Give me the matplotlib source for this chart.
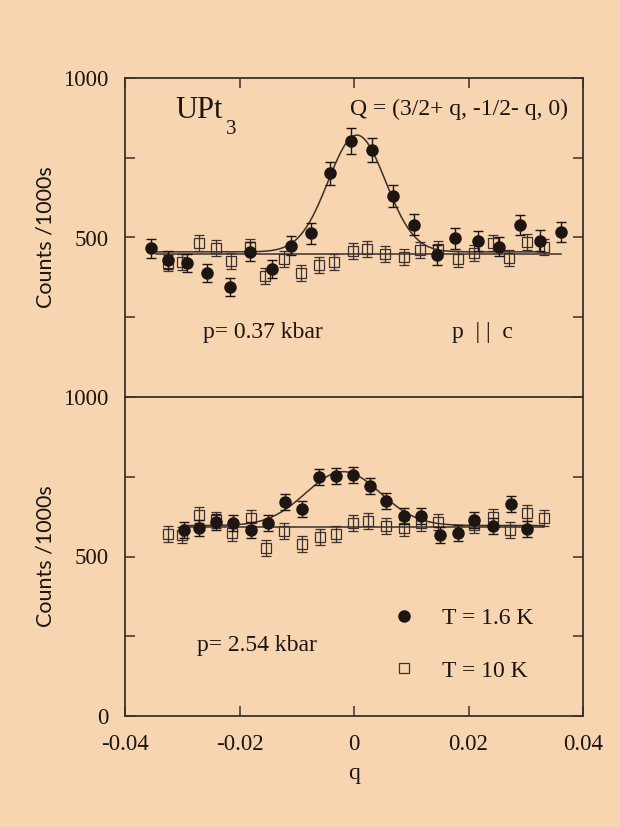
import numpy as np
import matplotlib
matplotlib.use("Agg")
import matplotlib.pyplot as plt
from matplotlib.ticker import FixedLocator

plt.rcParams['axes.unicode_minus'] = False
plt.rcParams['font.family'] = ['Liberation Serif', 'DejaVu Serif']

# ---------------- data: top panel (p = 0.37 kbar) ----------------
top_q_cold = [-0.0355, -0.0325, -0.0291, -0.0256, -0.0217, -0.0182, -0.0144, -0.0110,
              -0.0075, -0.0042, -0.0005, 0.0032, 0.0068, 0.0104, 0.0145, 0.0177,
              0.0216, 0.0253, 0.0290, 0.0325, 0.0361]
top_c_cold = [466, 429, 419, 390, 344, 455, 402, 474, 513, 701, 803, 774, 630, 540,
              445, 497, 489, 471, 540, 490, 518]
top_e_cold = [30, 28, 28, 28, 28, 30, 28, 30, 32, 36, 40, 38, 35, 33, 30, 32, 32, 30, 32, 32, 32]

top_q_warm = [-0.0325, -0.0301, -0.0271, -0.0241, -0.0214, -0.0181, -0.0155, -0.0122,
              -0.0093, -0.0062, -0.0035, -0.0002, 0.0023, 0.0055, 0.0087, 0.0116,
              0.0146, 0.0182, 0.0209, 0.0243, 0.0271, 0.0302, 0.0332]
top_c_warm = [419, 424, 484, 468, 427, 471, 379, 433, 390, 414, 424, 459, 464, 448,
              438, 461, 464, 432, 450, 482, 435, 487, 471]
top_e_warm = [25] * len(top_q_warm)

# gaussian fit (peak) and flat line, top panel
top_fit_base, top_fit_amp, top_fit_q0, top_fit_sigma = 455, 366, 0.0005, 0.0050
top_fit_range = (-0.0355, 0.0325)
top_flat_level, top_flat_range = 448, (-0.0345, 0.0361)

# ---------------- data: bottom panel (p = 2.54 kbar) ----------------
bot_q_cold = [-0.0297, -0.0271, -0.0241, -0.0211, -0.0180, -0.0151, -0.0121, -0.0091,
              -0.0061, -0.0031, -0.0002, 0.0028, 0.0056, 0.0088, 0.0117, 0.0150,
              0.0182, 0.0210, 0.0242, 0.0274, 0.0302]
bot_c_cold = [583, 590, 609, 604, 583, 604, 670, 648, 750, 752, 755, 721, 675, 627,
              627, 567, 573, 614, 597, 664, 585]
bot_e_cold = [25] * len(bot_q_cold)

bot_q_warm = [-0.0325, -0.0301, -0.0271, -0.0241, -0.0213, -0.0180, -0.0154, -0.0122,
              -0.0091, -0.0060, -0.0032, -0.0001, 0.0024, 0.0056, 0.0088, 0.0117,
              0.0146, 0.0209, 0.0243, 0.0273, 0.0303, 0.0332]
bot_c_warm = [571, 567, 630, 614, 575, 620, 526, 580, 538, 562, 571, 604, 611, 597,
              588, 604, 609, 599, 625, 583, 635, 620]
bot_e_warm = [25] * len(bot_q_warm)

bot_fit_base, bot_fit_amp, bot_fit_q0, bot_fit_sigma = 597, 169, -0.0019, 0.0065
bot_fit_range = (-0.0300, 0.0332)
bot_flat_level, bot_flat_range = 594, (-0.0300, 0.0332)

x_ticks = [-0.04, -0.02, 0, 0.02, 0.04]
x_ticklabels = ['-0.04', '-0.02', '0', '0.02', '0.04']

# ---------------- style ----------------
BG = '#F7D5B0'
INK = '#1c1512'
LINE = '#3b302a'

fig = plt.figure(figsize=(6.2, 8.27), dpi=100, facecolor=BG)
W, H = 620, 827
L, R = 125, 583
ax_top = fig.add_axes([L / W, 1 - 397 / H, (R - L) / W, 319 / H], facecolor=BG)
ax_bot = fig.add_axes([L / W, 1 - 716 / H, (R - L) / W, 319 / H], facecolor=BG,
                      sharex=ax_top)


def gauss(q, base, amp, q0, s):
    return base + amp * np.exp(-(q - q0) ** 2 / (2 * s ** 2))


def draw_panel(ax, qc, cc, ec, qw, cw, ew, fit, fit_rng, flat, flat_rng):
    qq = np.linspace(fit_rng[0], fit_rng[1], 400)
    ax.plot(qq, gauss(qq, *fit), color=LINE, lw=1.1, zorder=2)
    ax.plot(list(flat_rng), [flat, flat], color=LINE, lw=1.1, zorder=2)
    ax.errorbar(qw, cw, yerr=ew, fmt='none', ecolor='#3b3030', elinewidth=0.9,
                capsize=3.5, capthick=0.9, zorder=3)
    ax.plot(qw, cw, ls='none', marker='s', ms=7.5, mfc='none', mec='#3b3030',
            mew=0.9, zorder=4, label='T = 10 K')
    ax.errorbar(qc, cc, yerr=ec, fmt='none', ecolor=INK, elinewidth=1.0,
                capsize=3.5, capthick=1.0, zorder=5)
    ax.plot(qc, cc, ls='none', marker='o', ms=8, mfc=INK, mec=INK,
            zorder=6, label='T = 1.6 K')


draw_panel(ax_top, top_q_cold, top_c_cold, top_e_cold, top_q_warm, top_c_warm, top_e_warm,
           (top_fit_base, top_fit_amp, top_fit_q0, top_fit_sigma), top_fit_range,
           top_flat_level, top_flat_range)
draw_panel(ax_bot, bot_q_cold, bot_c_cold, bot_e_cold, bot_q_warm, bot_c_warm, bot_e_warm,
           (bot_fit_base, bot_fit_amp, bot_fit_q0, bot_fit_sigma), bot_fit_range,
           bot_flat_level, bot_flat_range)

for ax in (ax_top, ax_bot):
    ax.set_xlim(-0.04, 0.04)
    ax.set_ylim(0, 1000)
    for sp in ax.spines.values():
        sp.set_color(LINE)
        sp.set_linewidth(1.3)
    ax.xaxis.set_major_locator(FixedLocator(x_ticks))
    ax.yaxis.set_minor_locator(FixedLocator([250, 750]))
    ax.tick_params(which='both', direction='in', length=7, width=1.1, color=LINE,
                   left=True, right=True, labelsize=16.5, pad=12, labelcolor=INK)
    ax.set_ylabel('Counts /1000s', fontsize=15.5, family=['Lato', 'DejaVu Sans'], color=INK)
    ax.yaxis.set_label_coords(-0.152, 0.5)

ax_top.yaxis.set_major_locator(FixedLocator([500, 1000]))
ax_top.tick_params(axis='x', which='both', bottom=False, top=True, labelbottom=False)
ax_top.spines['bottom'].set_visible(False)

ax_bot.yaxis.set_major_locator(FixedLocator([0, 500, 1000]))
ax_bot.tick_params(axis='x', which='both', bottom=True, top=False, labelbottom=True, pad=13)
ax_bot.set_xticks(x_ticks)
ax_bot.set_xticklabels(x_ticklabels)
ax_bot.set_xlabel('q', fontsize=17, color=INK, labelpad=6)

# annotations
ax_top.text(0.109, 0.875, 'UPt', transform=ax_top.transAxes, fontsize=22,
            va='baseline', ha='left', color=INK)
ax_top.text(0.220, 0.826, '3', transform=ax_top.transAxes, fontsize=15,
            va='baseline', ha='left', color=INK)
ax_top.text(0.491, 0.884, 'Q = (3/2+ q, -1/2- q, 0)', transform=ax_top.transAxes,
            fontsize=17, va='baseline', ha='left', color=INK)
ax_top.text(0.170, 0.185, 'p= 0.37 kbar', transform=ax_top.transAxes, fontsize=17,
            va='baseline', ha='left', color=INK)
ax_top.text(0.714, 0.185, 'p  | |  c', transform=ax_top.transAxes, fontsize=17,
            va='baseline', ha='left', color=INK)
ax_bot.text(0.157, 0.204, 'p= 2.54 kbar', transform=ax_bot.transAxes, fontsize=17,
            va='baseline', ha='left', color=INK)

hs, ls = ax_bot.get_legend_handles_labels()
order = [ls.index('T = 1.6 K'), ls.index('T = 10 K')]
leg = ax_bot.legend([hs[i] for i in order], [ls[i] for i in order],
                    loc='center left', bbox_to_anchor=(0.558, 0.224), frameon=False,
                    fontsize=17, handlelength=1.2, handletextpad=1.0, labelspacing=1.32,
                    borderaxespad=0)
for t in leg.get_texts():
    t.set_color(INK)

fig.savefig('out.png', dpi=100, facecolor=BG)
